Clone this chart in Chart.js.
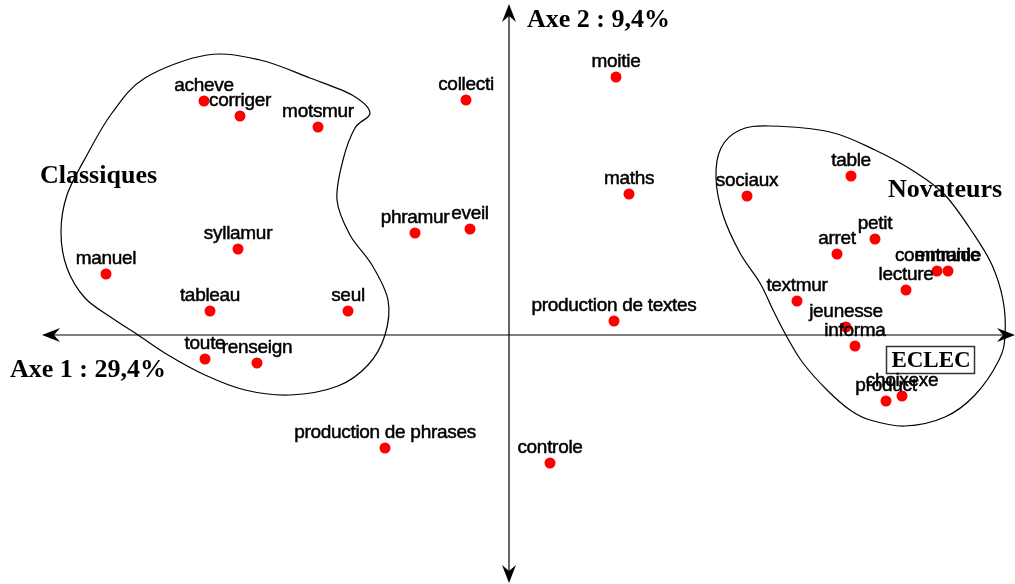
<!DOCTYPE html>
<html>
<head>
<meta charset="utf-8">
<script src="https://cdn.jsdelivr.net/npm/chart.js@4"></script>
<style>
  html, body { margin: 0; padding: 0; background: #fff; }
  canvas { display: block; }
</style>
</head>
<body>
<canvas id="chart" width="1015" height="584"></canvas>
<script>
// modalities of the factor analysis (axis 1 / axis 2 coordinates)
const labels = [
  'acheve', 'corriger', 'motsmur', 'collecti', 'moitie', 'maths', 'sociaux',
  'table', 'petit', 'arret', 'communic', 'entraide', 'lecture', 'textmur',
  'jeunesse', 'informa', 'choixexe', 'product', 'syllamur', 'manuel',
  'tableau', 'seul', 'phramur', 'eveil', 'production de textes', 'toute',
  'renseign', 'production de phrases', 'controle'
];
const axis1 = [
  -3.05, -2.69, -1.91, -0.43, 1.07, 1.20, 2.38,
  3.42, 3.66, 3.28, 4.28, 4.39, 3.97, 2.88,
  3.37, 3.46, 3.93, 3.77, -2.71, -4.03,
  -2.99, -1.61, -0.94, -0.39, 1.05, -3.04,
  -2.52, -1.24, 0.41
];
const axis2 = [
  2.34, 2.19, 2.08, 2.35, 2.58, 1.41, 1.39,
  1.59, 0.96, 0.81, 0.64, 0.64, 0.45, 0.34,
  0.08, -0.11, -0.61, -0.66, 0.86, 0.61,
  0.24, 0.24, 1.02, 1.06, 0.14, -0.24,
  -0.28, -1.13, -1.28
];

// outlines of the two groups
const classiquesX = [-3.02, -2.49, -1.99, -1.57, -1.39, -1.54, -1.66, -1.72, -1.59, -1.37, -1.21, -1.24, -1.41, -1.71, -2.19, -2.64, -3.04, -3.41, -3.71, -3.97, -4.24, -4.42, -4.48, -4.42, -4.22, -3.97, -3.64];
const classiquesY = [2.80, 2.75, 2.57, 2.40, 2.22, 2.07, 1.75, 1.35, 1.00, 0.70, 0.35, 0.00, -0.30, -0.51, -0.60, -0.55, -0.40, -0.20, 0.00, 0.17, 0.37, 0.67, 1.03, 1.40, 1.80, 2.22, 2.57];
const novateursX = [2.61, 3.21, 3.66, 4.06, 4.36, 4.64, 4.83, 4.94, 4.96, 4.90, 4.66, 4.36, 3.96, 3.61, 3.41, 3.18, 2.94, 2.78, 2.64, 2.51, 2.31, 2.14, 2.07, 2.12, 2.31];
const novateursY = [2.09, 2.03, 1.85, 1.63, 1.40, 1.02, 0.70, 0.35, 0.00, -0.25, -0.60, -0.82, -0.91, -0.85, -0.75, -0.55, -0.28, -0.02, 0.25, 0.52, 0.82, 1.20, 1.57, 1.87, 2.05];

const axisTitle1 = 'Axe 1 : 29,4%';
const axisTitle2 = 'Axe 2 : 9,4%';

const points = labels.map((l, i) => ({ x: axis1[i], y: axis2[i] }));

const sansFont = '19px "Liberation Sans", Arial, sans-serif';
const serifBold = 'bold 26px "Liberation Serif", "Times New Roman", serif';

function arrowHead(ctx, x, y, dx, dy) {
  // dart-shaped filled arrow pointing in direction (dx, dy)
  const len = 18, half = 7, notch = 12;
  const px = -dy, py = dx;
  ctx.beginPath();
  ctx.moveTo(x, y);
  ctx.lineTo(x - dx * len + px * half, y - dy * len + py * half);
  ctx.lineTo(x - dx * notch, y - dy * notch);
  ctx.lineTo(x - dx * len - px * half, y - dy * len - py * half);
  ctx.closePath();
  ctx.fill();
}

function closedCurve(ctx, xs, ys, sx, sy) {
  const p = xs.map((v, i) => [sx.getPixelForValue(v), sy.getPixelForValue(ys[i])]);
  const n = p.length;
  ctx.beginPath();
  ctx.moveTo(p[0][0], p[0][1]);
  for (let i = 0; i < n; i++) {
    const p0 = p[(i - 1 + n) % n], p1 = p[i], p2 = p[(i + 1) % n], p3 = p[(i + 2) % n];
    ctx.bezierCurveTo(
      p1[0] + (p2[0] - p0[0]) / 6, p1[1] + (p2[1] - p0[1]) / 6,
      p2[0] - (p3[0] - p1[0]) / 6, p2[1] - (p3[1] - p1[1]) / 6,
      p2[0], p2[1]
    );
  }
  ctx.closePath();
  ctx.stroke();
}

const backdrop = {
  id: 'backdrop',
  beforeDatasetsDraw(chart) {
    const { ctx, scales: { x, y }, width, height } = chart;
    const ox = x.getPixelForValue(0), oy = y.getPixelForValue(0);
    ctx.save();
    ctx.strokeStyle = '#000';
    ctx.fillStyle = '#000';
    ctx.lineWidth = 1.2;

    // group outlines
    closedCurve(ctx, classiquesX, classiquesY, x, y);
    closedCurve(ctx, novateursX, novateursY, x, y);

    // axes with arrows
    ctx.beginPath();
    ctx.moveTo(44, oy); ctx.lineTo(width - 2, oy);
    ctx.moveTo(ox, 6); ctx.lineTo(ox, height - 3);
    ctx.stroke();
    arrowHead(ctx, 42, oy, -1, 0);
    arrowHead(ctx, width, oy, 1, 0);
    arrowHead(ctx, ox, 4, 0, -1);
    arrowHead(ctx, ox, height - 1, 0, 1);

    // titles
    ctx.font = serifBold;
    ctx.textBaseline = 'alphabetic';
    ctx.textAlign = 'left';
    ctx.fillText(axisTitle2, 527, 27);
    ctx.fillText(axisTitle1, 10, 377);
    ctx.fillText('Classiques', 40, 183);
    ctx.fillText('Novateurs', 888, 197);

    // ECLEC box
    ctx.fillStyle = '#fff';
    ctx.fillRect(886, 346, 89, 28);
    ctx.strokeStyle = '#333';
    ctx.lineWidth = 1.5;
    ctx.strokeRect(886.5, 346.5, 88, 27);
    ctx.fillStyle = '#000';
    ctx.font = 'bold 23px "Liberation Serif", "Times New Roman", serif';
    ctx.textAlign = 'center';
    ctx.fillText('ECLEC', 931, 367);
    ctx.restore();
  },
  afterDatasetsDraw(chart) {
    const { ctx, scales: { x, y } } = chart;
    ctx.save();
    ctx.font = sansFont;
    if ('letterSpacing' in ctx) ctx.letterSpacing = '-0.3px';
    ctx.fillStyle = '#000';
    ctx.strokeStyle = '#000';
    ctx.lineWidth = 0.5;
    ctx.textAlign = 'center';
    ctx.textBaseline = 'alphabetic';
    labels.forEach((l, i) => {
      const px = x.getPixelForValue(axis1[i]);
      const py = y.getPixelForValue(axis2[i]) - 10;
      ctx.fillText(l, px, py);
      ctx.strokeText(l, px, py);
    });
    ctx.restore();
  }
};

new Chart(document.getElementById('chart').getContext('2d'), {
  type: 'scatter',
  data: {
    datasets: [{
      data: points,
      pointRadius: 5.5,
      pointHoverRadius: 5.5,
      backgroundColor: '#ff0000',
      borderWidth: 0
    }]
  },
  options: {
    responsive: false,
    animation: false,
    layout: { padding: 0, autoPadding: false },
    scales: {
      x: { type: 'linear', display: false, min: -5.09, max: 5.06 },
      y: { type: 'linear', display: false, min: -2.49, max: 3.35 }
    },
    plugins: {
      legend: { display: false },
      tooltip: { enabled: false }
    }
  },
  plugins: [backdrop]
});
</script>
</body>
</html>
